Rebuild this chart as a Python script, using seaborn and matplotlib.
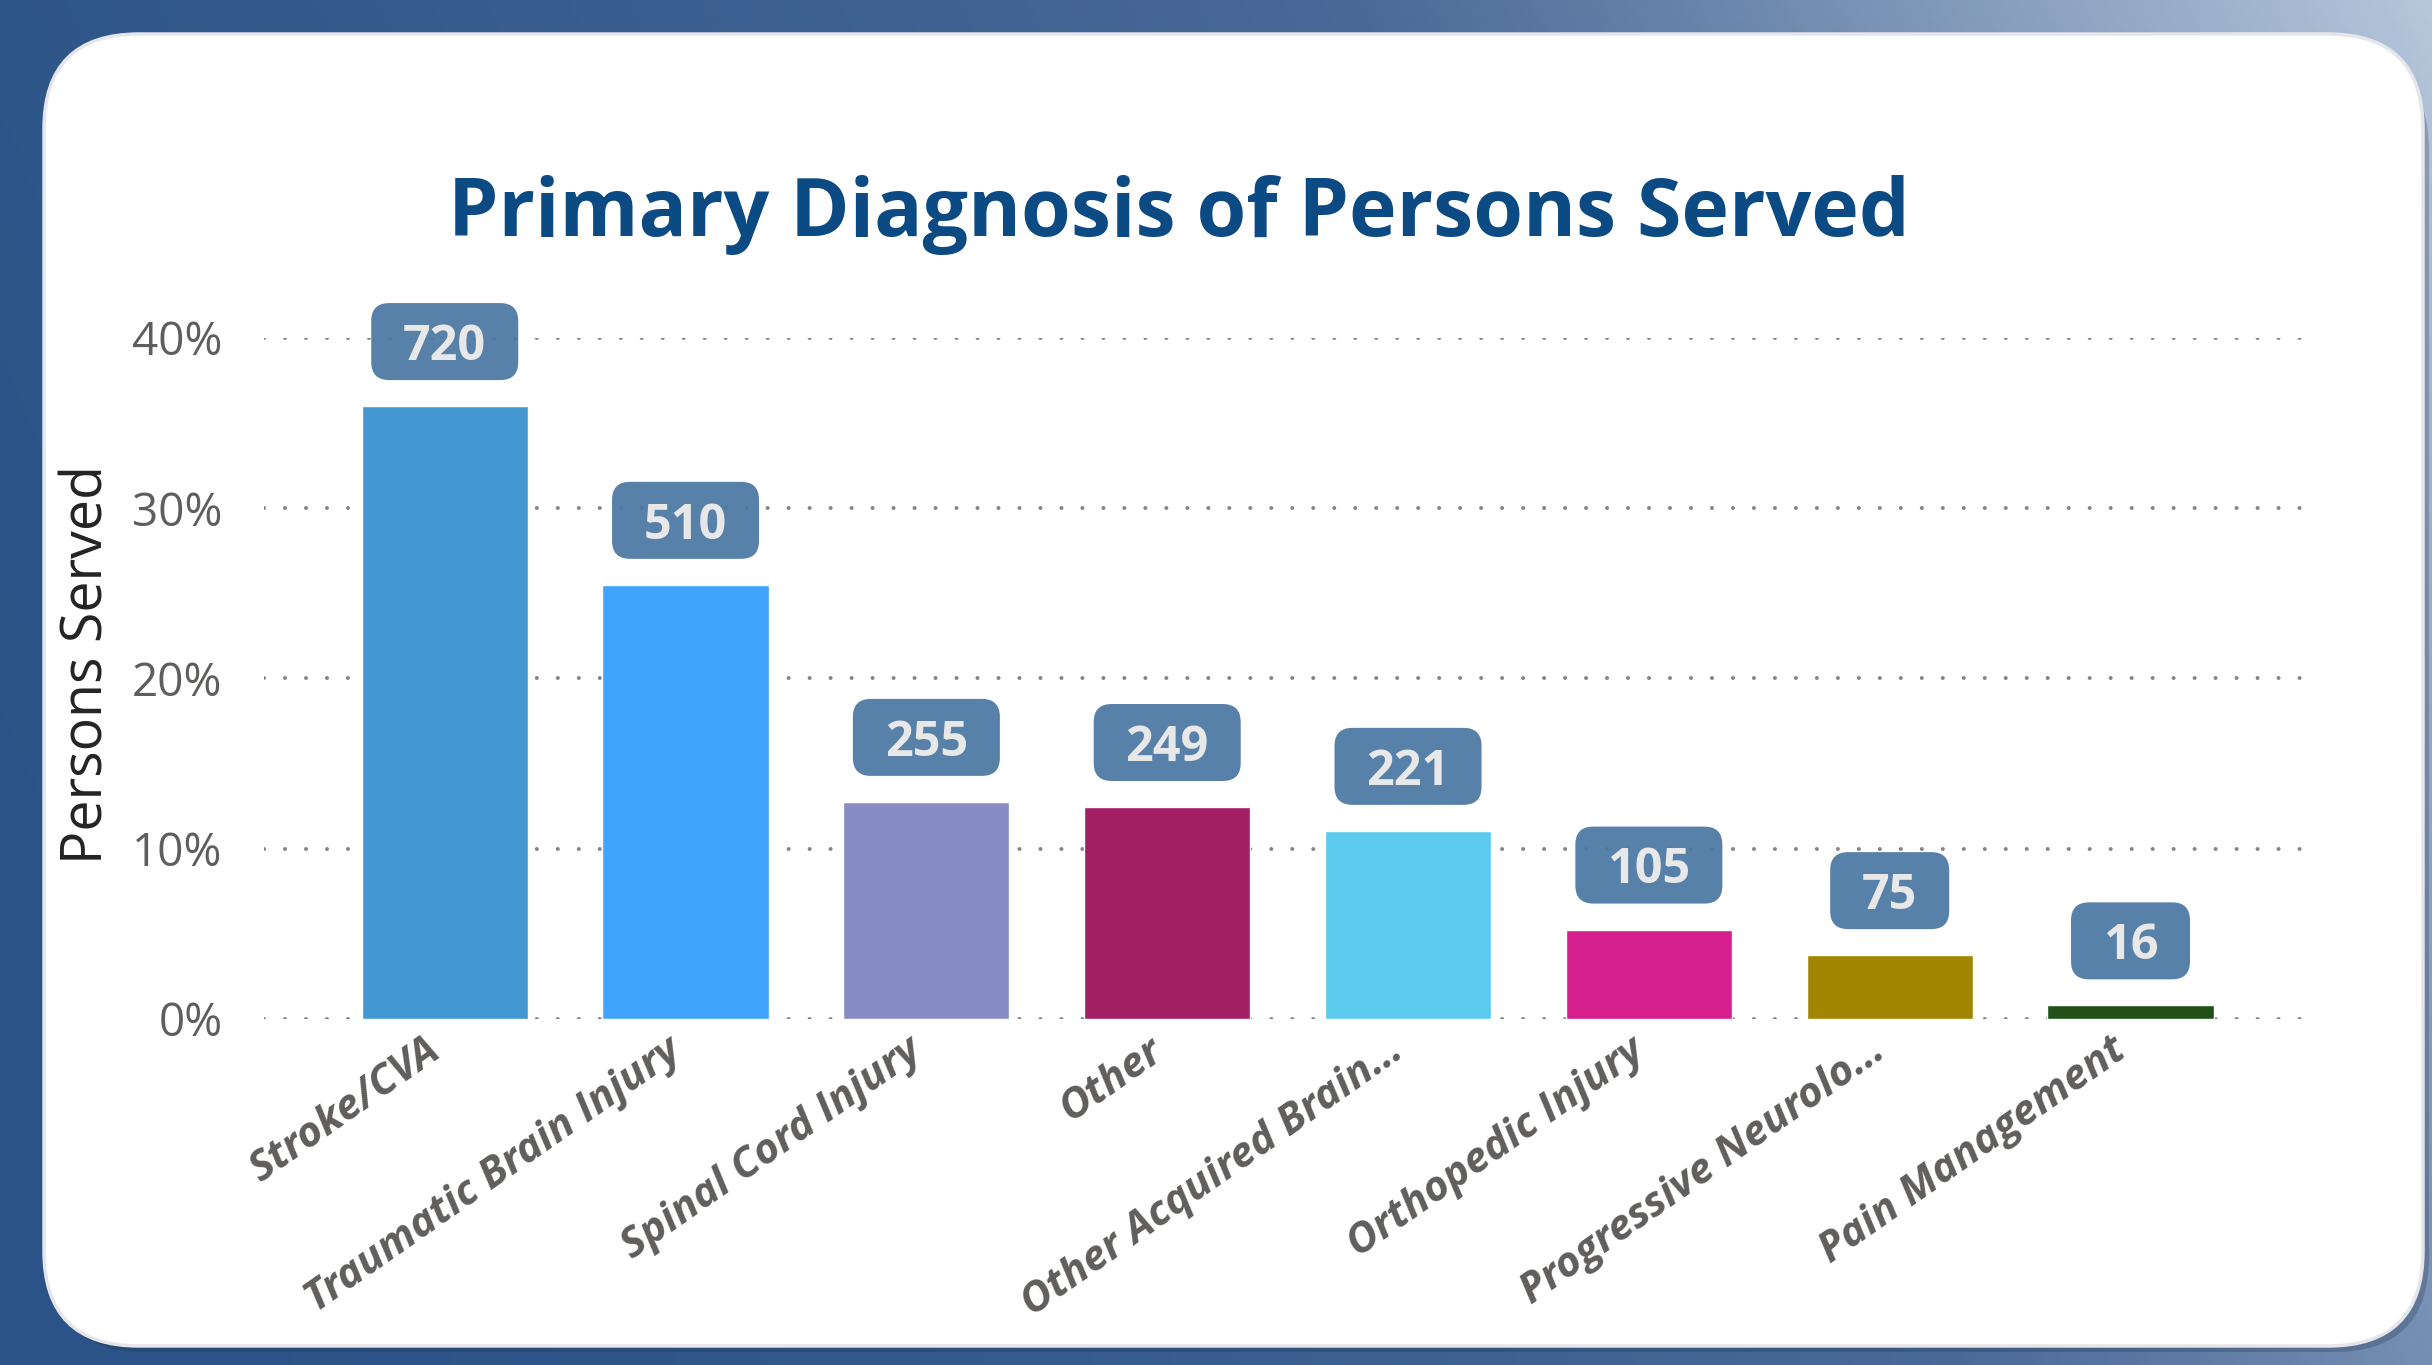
import numpy as np
import matplotlib
matplotlib.use("Agg")
import matplotlib.pyplot as plt
import matplotlib.transforms as mtransforms
from matplotlib.patches import FancyBboxPatch
from matplotlib.colors import LinearSegmentedColormap
import seaborn as sns

categories = ["Stroke/CVA", "Traumatic Brain Injury", "Spinal Cord Injury", "Other",
              "Other Acquired Brain…", "Orthopedic Injury", "Progressive Neurolo…",
              "Pain Management"]
persons = [720, 510, 255, 249, 221, 105, 75, 16]
percent = [36.0, 25.5, 12.75, 12.45, 11.05, 5.25, 3.75, 0.8]
colors = ["#4398D2", "#41A4FF", "#878CC4", "#A21F63", "#5CCAEC", "#D41F8C",
          "#A38600", "#215118"]
yticks = [0, 10, 20, 30, 40]

sns.set_theme(style="white")
plt.rcParams["font.family"] = ["Open Sans", "DejaVu Sans"]
plt.rcParams["lines.dash_capstyle"] = "round"

W, H = 2432, 1365
fig = plt.figure(figsize=(W / 100, H / 100), dpi=100)

# background gradient + white card, in pixel units
bg = fig.add_axes([0, 0, 1, 1], zorder=0)
bg.set_xlim(0, W)
bg.set_ylim(0, H)
bg.axis("off")
gx, gy = np.meshgrid(np.linspace(0, 1, 400), np.linspace(0, 1, 200))
grad = np.clip(0.8 * gx + 0.2 * gy, 0, 1) ** 1.6
cmap = LinearSegmentedColormap.from_list("bgblue", ["#2B5387", "#4A6A98", "#B6C6DB"])
bg.imshow(grad, cmap=cmap, extent=[0, W, 0, H], origin="lower", aspect="auto")
bg.add_patch(FancyBboxPatch((49, 13), 2380, 1297, boxstyle="round,pad=0,rounding_size=95",
                            facecolor="#1c2c44", edgecolor="none", alpha=0.25))
bg.add_patch(FancyBboxPatch((44, 19), 2379, 1312, boxstyle="round,pad=0,rounding_size=95",
                            facecolor="white", edgecolor="#E6E6EA", linewidth=2.5))

fig.text(0.4848, 0.827, "Primary Diagnosis of Persons Served", ha="center", va="baseline",
         fontsize=58, fontweight="bold", color="#0B4A82")

ax = fig.add_axes([0.1086, 0.2535, 0.8417, 0.4989], zorder=1)
ax.set_facecolor("none")
sns.barplot(x=categories, y=percent, hue=categories, palette=colors, legend=False,
            width=0.69, saturation=1, ax=ax)
ax.set_xlim(-0.75, 7.75)
ax.set_ylim(0, 40)
ax.set_yticks(yticks)
ax.set_yticklabels([f"{t}%" for t in yticks], fontsize=33, color="#605E5C")
ax.set_xticks(range(len(categories)))
ax.set_xticklabels(categories, rotation=35, ha="right", rotation_mode="anchor",
                   fontsize=30.5, fontweight="bold", style="italic", color="#605E5C")
ax.tick_params(axis="both", length=0)
ax.tick_params(axis="x", pad=8)
ax.tick_params(axis="y", pad=30)
# nudge rotated labels so their ends sit under the bar centres
shift = mtransforms.ScaledTranslation(-0.2, 0.0, fig.dpi_scale_trans)
for lab in ax.get_xticklabels():
    lab.set_transform(lab.get_transform() + shift)
ax.set_xlabel("")
ax.set_ylabel("Persons Served", fontsize=40, color="#252423", labelpad=11)
ax.yaxis.label.set_y(0.52)
for s in ax.spines.values():
    s.set_visible(False)
ax.set_axisbelow(True)
ax.yaxis.grid(True, linestyle=(0, (0.01, 5.2)), linewidth=2.9, color="#858585")
ax.xaxis.grid(False)

# value labels in rounded boxes above each bar
ident = mtransforms.IdentityTransform()
for i, (p, n) in enumerate(zip(percent, persons)):
    px, py = ax.transData.transform((i, p))
    label = str(n)
    bw = 63 + 28 * len(label)
    ax.add_patch(FancyBboxPatch((px - bw / 2, py + 26), bw, 77,
                                boxstyle="round,pad=0,rounding_size=18",
                                facecolor="#4D79A4", edgecolor="none", alpha=0.94,
                                transform=ident, clip_on=False, zorder=3))
    ax.text(px, py + 26 + 38.5 - 18.3, label, transform=ident, ha="center", va="baseline",
            fontsize=35, fontweight="bold", color="#E8E8E8", zorder=4, clip_on=False)

fig.savefig("out.png", dpi=100)
